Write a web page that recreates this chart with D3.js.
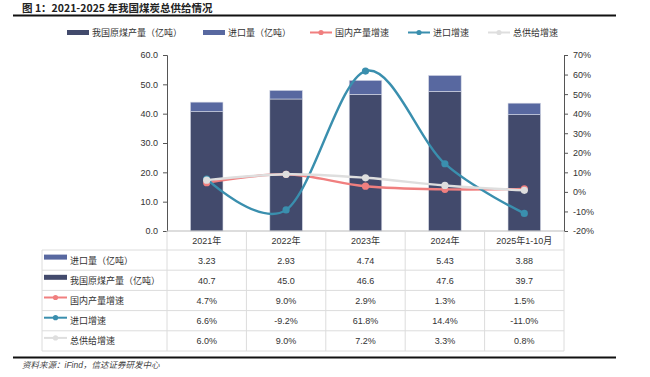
<!DOCTYPE html>
<html>
<head>
<meta charset="utf-8">
<script src="https://cdn.jsdelivr.net/npm/d3@7"></script>
<style>
  body { margin: 0; background: #fff; }
  svg { display: block; font-family: "Liberation Sans", "Noto Sans CJK SC", sans-serif; }
</style>
</head>
<body>
<div id="chart"></div>
<script>
// data
const years = ["2021年", "2022年", "2023年", "2024年", "2025年1-10月"];
const production = [40.7, 45.0, 46.6, 47.6, 39.7];     // 我国原煤产量（亿吨）
const imports = [3.23, 2.93, 4.74, 5.43, 3.88];         // 进口量（亿吨）
const prodGrowth = [4.7, 9.0, 2.9, 1.3, 1.5];           // 国内产量增速 %
const importGrowth = [6.6, -9.2, 61.8, 14.4, -11.0];    // 进口增速 %
const supplyGrowth = [6.0, 9.0, 7.2, 3.3, 0.8];         // 总供给增速 %
const leftTicks = [0, 10, 20, 30, 40, 50, 60];
const rightTicks = [-20, -10, 0, 10, 20, 30, 40, 50, 60, 70];

const width = 650, height = 377;
const plot = {left: 167, right: 564, top: 55, bottom: 231};

const colProd = "#424a6c", colImp = "#5868a0";
const colPink = "#f07f7f", colTeal = "#3a8fae", colGrey = "#dedede";

// plain hyphen for negatives, like the source
const f1 = d => d3.format(".1f")(d).replace("−", "-");
const f2 = d => d3.format(".2f")(d).replace("−", "-");
const pct = d => f1(d) + "%";

const svg = d3.select("#chart").append("svg")
  .attr("width", width).attr("height", height);

// title
svg.append("text")
  .attr("x", 22).attr("y", 11.5)
  .style("font-family", "'Noto Sans CJK SC', sans-serif")
  .style("font-size", "10.5px").style("font-weight", "bold").attr("fill", "#222")
  .text("图 1：2021-2025 年我国煤炭总供给情况");
svg.append("line").attr("x1", 13).attr("x2", 616).attr("y1", 15.5).attr("y2", 15.5)
  .attr("stroke", "#111").attr("stroke-width", 2);

// scales
const x = d3.scaleBand().domain(years).range([plot.left, plot.right]).paddingInner(0).paddingOuter(0);
const barW = x.bandwidth() * 0.41;
const yL = d3.scaleLinear().domain([0, 60]).range([plot.bottom, plot.top]);
const yR = d3.scaleLinear().domain([-20, 70]).range([plot.bottom, plot.top]);

// bars
const bars = years.map((yr, i) => ({yr, prod: production[i], imp: imports[i]}));
svg.append("g").selectAll("rect.prod").data(bars).join("rect")
  .attr("x", d => x(d.yr) + (x.bandwidth() - barW) / 2)
  .attr("width", barW)
  .attr("y", d => yL(d.prod))
  .attr("height", d => yL(0) - yL(d.prod))
  .attr("fill", colProd).attr("stroke", "#d6d9e6").attr("stroke-width", 0.6);
svg.append("g").selectAll("rect.imp").data(bars).join("rect")
  .attr("x", d => x(d.yr) + (x.bandwidth() - barW) / 2)
  .attr("width", barW)
  .attr("y", d => yL(d.prod + d.imp))
  .attr("height", d => yL(d.prod) - yL(d.prod + d.imp))
  .attr("fill", colImp).attr("stroke", "#d6d9e6").attr("stroke-width", 0.6);

// axes
const axL = svg.append("g").attr("transform", `translate(${plot.left},0)`)
  .call(d3.axisLeft(yL).tickValues(leftTicks).tickFormat(d3.format(".1f")).tickSize(4).tickPadding(5));
const axR = svg.append("g").attr("transform", `translate(${plot.right},0)`)
  .call(d3.axisRight(yR).tickValues(rightTicks).tickFormat(d => d + "%").tickSize(4).tickPadding(5));
[axL, axR].forEach(a => {
  a.select(".domain").attr("stroke", "#555");
  a.selectAll(".tick line").attr("stroke", "#555");
  a.selectAll("text").style("font-size", "9px").attr("fill", "#333");
});
svg.append("line").attr("x1", plot.left).attr("x2", plot.right)
  .attr("y1", plot.bottom).attr("y2", plot.bottom).attr("stroke", "#bbb");

// lines
const series = [
  {name: "国内产量增速", vals: prodGrowth, color: colPink},
  {name: "进口增速", vals: importGrowth, color: colTeal},
  {name: "总供给增速", vals: supplyGrowth, color: colGrey}
];
const line = d3.line()
  .x((d, i) => x(years[i]) + x.bandwidth() / 2)
  .y(d => yR(d))
  .curve(d3.curveCardinal.tension(0));
series.forEach(s => {
  svg.append("path").datum(s.vals).attr("d", line)
    .attr("fill", "none").attr("stroke", s.color).attr("stroke-width", 2.4);
  svg.append("g").selectAll("circle").data(s.vals).join("circle")
    .attr("cx", (d, i) => x(years[i]) + x.bandwidth() / 2)
    .attr("cy", d => yR(d))
    .attr("r", 3.6).attr("fill", s.color);
});

// legend
const legend = [
  {name: "我国原煤产量（亿吨）", type: "bar", color: colProd, x: 67},
  {name: "进口量（亿吨）", type: "bar", color: colImp, x: 203},
  {name: "国内产量增速", type: "line", color: colPink, x: 310},
  {name: "进口增速", type: "line", color: colTeal, x: 408},
  {name: "总供给增速", type: "line", color: colGrey, x: 488}
];
function swatch(g, d, x0, yc, w) {
  if (d.type === "bar") {
    g.append("rect").attr("x", x0).attr("y", yc - 2.5).attr("width", w).attr("height", 5).attr("fill", d.color);
  } else {
    g.append("line").attr("x1", x0).attr("x2", x0 + w).attr("y1", yc).attr("y2", yc)
      .attr("stroke", d.color).attr("stroke-width", 2);
    g.append("circle").attr("cx", x0 + w / 2).attr("cy", yc).attr("r", 2.6).attr("fill", d.color);
  }
}
const lg = svg.append("g");
legend.forEach(d => {
  swatch(lg, d, d.x, 32.5, 22);
  lg.append("text").attr("x", d.x + 25).attr("y", 36)
    .style("font-size", "9px").attr("fill", "#333").text(d.name);
});

// data table
const rowH = 20.2, tTop = 250, tLeft = 42;
const rows = [
  {name: "进口量（亿吨）", type: "bar", color: colImp, vals: imports, fmt: f2},
  {name: "我国原煤产量（亿吨）", type: "bar", color: colProd, vals: production, fmt: f1},
  {name: "国内产量增速", type: "line", color: colPink, vals: prodGrowth, fmt: pct},
  {name: "进口增速", type: "line", color: colTeal, vals: importGrowth, fmt: pct},
  {name: "总供给增速", type: "line", color: colGrey, vals: supplyGrowth, fmt: pct}
];
const tb = svg.append("g");
const gridC = "#dcdcdc";
rows.forEach((r, i) => {
  tb.append("line").attr("x1", tLeft).attr("x2", plot.right)
    .attr("y1", tTop + i * rowH).attr("y2", tTop + i * rowH).attr("stroke", gridC);
});
const tBottom = tTop + rows.length * rowH;
tb.append("line").attr("x1", tLeft).attr("x2", plot.right).attr("y1", tBottom).attr("y2", tBottom).attr("stroke", gridC);
tb.append("line").attr("x1", tLeft).attr("x2", tLeft).attr("y1", tTop).attr("y2", tBottom).attr("stroke", gridC);
years.forEach(yr => {
  tb.append("line").attr("x1", x(yr) + x.bandwidth()).attr("x2", x(yr) + x.bandwidth())
    .attr("y1", plot.bottom).attr("y2", tBottom).attr("stroke", gridC);
});
tb.append("line").attr("x1", plot.left).attr("x2", plot.left)
  .attr("y1", plot.bottom).attr("y2", tBottom).attr("stroke", gridC);

tb.selectAll("text.yr").data(years).join("text")
  .attr("x", d => x(d) + x.bandwidth() / 2).attr("y", 244)
  .attr("text-anchor", "middle").style("font-size", "9px").attr("fill", "#333").text(d => d);

rows.forEach((r, i) => {
  const yc = tTop + i * rowH + rowH / 2;
  swatch(tb, r, tLeft + 2, yc - 3, 23);
  tb.append("text").attr("x", tLeft + 28).attr("y", yc + 3.5)
    .style("font-size", "9px").attr("fill", "#333").text(r.name);
  tb.selectAll(null).data(r.vals).join("text")
    .attr("x", (d, j) => x(years[j]) + x.bandwidth() / 2).attr("y", yc + 3.5)
    .attr("text-anchor", "middle").style("font-size", "9px").attr("fill", "#333")
    .text(d => r.fmt(d));
});

// source
svg.append("line").attr("x1", 13).attr("x2", 616).attr("y1", 357.5).attr("y2", 357.5)
  .attr("stroke", "#111").attr("stroke-width", 2);
svg.append("text").attr("x", 22).attr("y", 368)
  .style("font-size", "8.5px").style("font-style", "italic").attr("fill", "#444")
  .text("资料来源：iFind，信达证券研发中心");
</script>
</body>
</html>
